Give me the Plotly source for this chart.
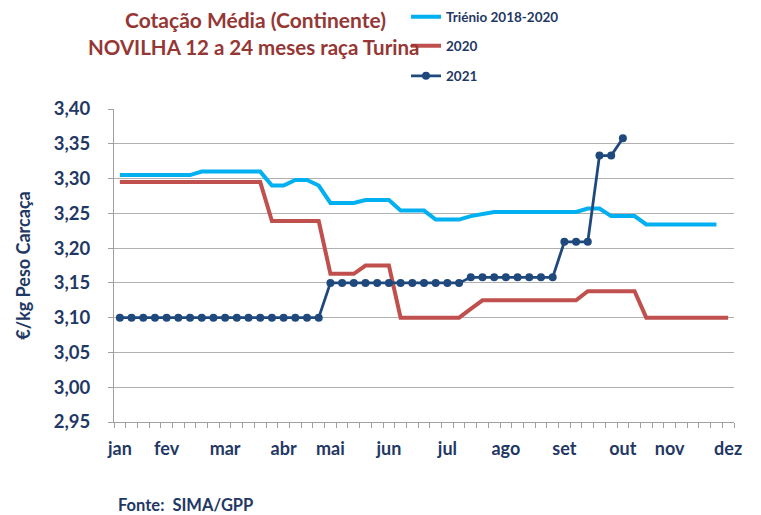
import plotly.graph_objects as go

weeks = list(range(1, 54))

trienio = ([3.305] * 7 + [3.310] * 6 + [3.290] * 2 + [3.298] * 2 + [3.290] +
           [3.265] * 3 + [3.269] * 3 + [3.254] * 3 + [3.241] * 3 + [3.246, 3.249] +
           [3.252] * 8 + [3.257] * 2 + [3.246] * 3 + [3.234] * 7)

y2020 = ([3.295] * 13 + [3.239] * 5 + [3.163] * 3 + [3.175] * 3 + [3.100] * 6 +
         [3.1125] + [3.125] * 9 + [3.138] * 5 + [3.100] * 8)

y2021 = ([3.100] * 18 + [3.150] * 12 + [3.158] * 8 + [3.209] * 3 +
         [3.333, 3.333, 3.358])

month_weeks = [1, 5, 10, 15, 19, 24, 29, 34, 39, 44, 48, 53]
month_labels = ["jan", "fev", "mar", "abr", "mai", "jun", "jul", "ago", "set", "out", "nov", "dez"]

y_ticks = [2.95, 3.00, 3.05, 3.10, 3.15, 3.20, 3.25, 3.30, 3.35, 3.40]

NAVY = "#1f3864"
FONT = "Lato"
W, H = 761, 515
ML, MR, MT, MB = 114, 27, 109, 93


def px(x, y):
    """convert pixel position in the page to paper coords"""
    return (x - ML) / (W - ML - MR), 1 - (y - MT) / (H - MT - MB)


fig = go.Figure()
fig.add_trace(go.Scatter(x=weeks[:len(trienio)], y=trienio, mode="lines", name="Triénio 2018-2020",
                         line=dict(color="#00b0f0", width=4), legend="legend"))
fig.add_trace(go.Scatter(x=weeks[:len(y2020)], y=y2020, mode="lines", name="2020",
                         line=dict(color="#c0504d", width=4), legend="legend2"))
fig.add_trace(go.Scatter(x=weeks[:len(y2021)], y=y2021, mode="lines+markers", name="2021",
                         line=dict(color="#1f497d", width=2.8),
                         marker=dict(color="#1f497d", size=8), legend="legend3"))

legend_common = dict(font=dict(family=FONT, size=13.5, color=NAVY, weight="bold"),
                     bgcolor="rgba(0,0,0,0)", itemwidth=30, xref="container", yref="container",
                     xanchor="left", yanchor="middle", tracegroupgap=0)

t1 = px(255, 20)
t2 = px(254, 47)
f1 = px(116, 505)

fig.update_layout(
    width=W, height=H,
    margin=dict(l=ML, r=MR, t=MT, b=MB, autoexpand=False),
    plot_bgcolor="white", paper_bgcolor="white",
    separators=",.",
    showlegend=True,
    legend=dict(x=406 / W, y=1 - 17 / H, **legend_common),
    legend2=dict(x=406 / W, y=1 - 46 / H, **legend_common),
    legend3=dict(x=406 / W, y=1 - 76 / H, **legend_common),
    xaxis=dict(
        range=[0.5, 53.5], tickmode="array", tickvals=month_weeks, ticktext=month_labels,
        ticks="", showgrid=False, zeroline=False,
        showline=True, linecolor="#a0a0a0", linewidth=1,
        tickfont=dict(family=FONT, size=18, color=NAVY, weight="bold"),
        ticklabelstandoff=10,
        minor=dict(tickmode="array", tickvals=[w - 0.5 for w in weeks] + [weeks[-1] + 0.5],
                   ticks="outside", ticklen=5, tickcolor="#a0a0a0", tickwidth=1, showgrid=False),
    ),
    yaxis=dict(
        range=[2.95, 3.40], tickmode="array", tickvals=y_ticks, tickformat=".2f",
        ticks="outside", ticklen=5, tickcolor="#a0a0a0",
        showgrid=True, gridcolor="#b0b0b0", gridwidth=1, zeroline=False,
        showline=True, linecolor="#a0a0a0", linewidth=1,
        tickfont=dict(family=FONT, size=18.5, color=NAVY, weight="bold"),
        ticklabelstandoff=14,
        title=dict(text="€/kg Peso Carcaça", font=dict(family=FONT, size=18, color=NAVY, weight="bold"),
                   standoff=18),
    ),
    annotations=[
        dict(text="Cotação Média (Continente)", x=t1[0], y=t1[1], xref="paper", yref="paper",
             showarrow=False, xanchor="center", yanchor="middle",
             font=dict(family=FONT, size=21, color="#953735", weight="bold")),
        dict(text="NOVILHA 12 a 24 meses raça Turina", x=t2[0], y=t2[1], xref="paper", yref="paper",
             showarrow=False, xanchor="center", yanchor="middle",
             font=dict(family=FONT, size=20.5, color="#953735", weight="bold")),
        dict(text="Fonte:  SIMA/GPP", x=f1[0], y=f1[1], xref="paper", yref="paper",
             showarrow=False, xanchor="left", yanchor="middle",
             font=dict(family=FONT, size=16.5, color=NAVY, weight="bold")),
    ],
)
fig.write_html("out.html", config={"displayModeBar": False},
               post_script="document.body.style.margin='0px';")
